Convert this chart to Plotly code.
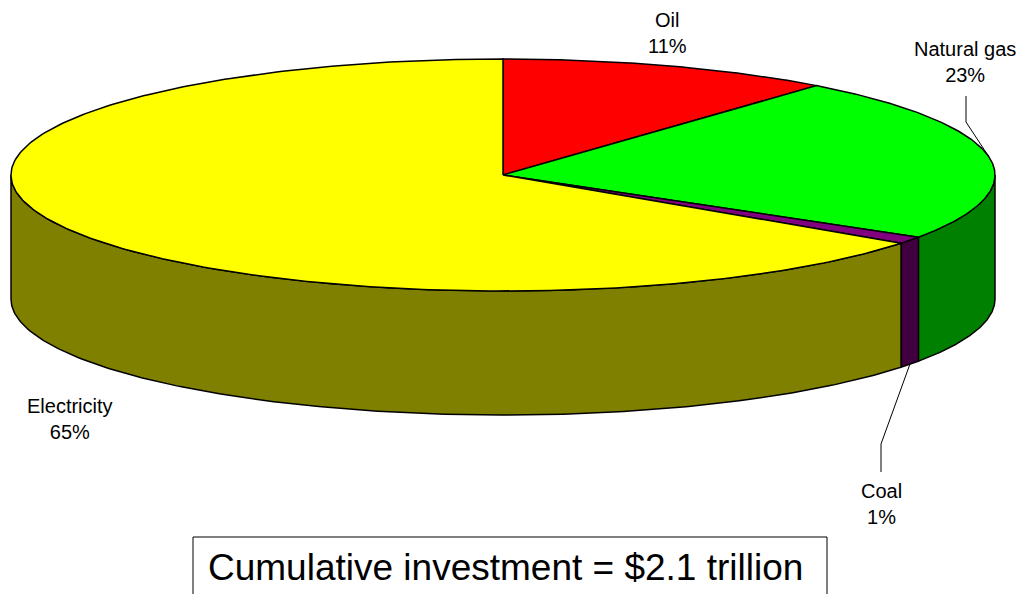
import numpy as np
import plotly.graph_objects as go

# ---- data ----
categories = ["Oil", "Natural gas", "Coal", "Electricity"]
values = [11, 23, 1, 65]
top_colors = ["#FF0000", "#00FF00", "#800080", "#FFFF00"]
side_colors = ["#800000", "#008000", "#400040", "#808000"]
title_text = "Cumulative investment = $2.1 trillion"

# ---- geometry (pixel space) ----
W, H = 1025, 594
cx, cy = 503, 175
ra, rb = 492, 116
depth = 124

def pt(theta_deg, dy=0.0):
    t = np.radians(theta_deg)
    return cx + ra * np.sin(t), cy - rb * np.cos(t) + dy

total = float(sum(values))
bounds = np.concatenate([[0], np.cumsum(values) / total * 360.0])

fig = go.Figure()
line = dict(color="black", width=1.5)

# side faces (visible front half: 90..270 deg clockwise from top)
for i in range(len(values)):
    t0, t1 = max(bounds[i], 90.0), min(bounds[i + 1], 270.0)
    if t1 <= t0:
        continue
    th = np.linspace(t0, t1, 200)
    xt, yt = pt(th)
    xb, yb = pt(th[::-1], depth)
    xs = np.concatenate([xt, xb, xt[:1]])
    ys = np.concatenate([yt, yb, yt[:1]])
    fig.add_trace(go.Scatter(x=xs, y=ys, mode="lines", fill="toself",
                             fillcolor=side_colors[i], line=line,
                             hoverinfo="skip", showlegend=False))

# top faces
for i in range(len(values)):
    th = np.linspace(bounds[i], bounds[i + 1], 300)
    xt, yt = pt(th)
    xs = np.concatenate([[cx], xt, [cx]])
    ys = np.concatenate([[cy], yt, [cy]])
    fig.add_trace(go.Scatter(x=xs, y=ys, mode="lines", fill="toself",
                             fillcolor=top_colors[i], line=line,
                             hoverinfo="skip", showlegend=False))

label_font = dict(family="Liberation Sans, Arial, sans-serif", size=20, color="black")

# label anchors
label_pos = {
    "Oil": (667, 33),
    "Natural gas": (965, 62),
    "Coal": (881, 504),
    "Electricity": (70, 419),
}
for i, c in enumerate(categories):
    x, y = label_pos[c]
    fig.add_annotation(x=x, y=y, text=f"{c}<br>{values[i]}%", showarrow=False,
                       font=label_font, xref="x", yref="y", align="center")

# leader lines
mid = {c: (bounds[i] + bounds[i + 1]) / 2 for i, c in enumerate(categories)}
gx, gy = pt(mid["Natural gas"])
fig.add_trace(go.Scatter(x=[966, 966, gx], y=[96, 122, gy], mode="lines",
                         line=dict(color="black", width=1), hoverinfo="skip",
                         showlegend=False))
kx, ky = pt(mid["Coal"], depth)
fig.add_trace(go.Scatter(x=[881, 881, kx], y=[472, 444, ky], mode="lines",
                         line=dict(color="black", width=1), hoverinfo="skip",
                         showlegend=False))

# title box
fig.add_shape(type="rect", x0=193, x1=827, y0=537, y1=610, xref="x", yref="y",
              line=dict(color="black", width=1), fillcolor="white", layer="above")
fig.add_annotation(x=505, y=567, text=title_text, showarrow=False,
                   font=dict(family="Liberation Sans Narrow, Liberation Sans, Arial", size=37, color="black"),
                   xref="x", yref="y")

fig.update_layout(
    width=W, height=H,
    margin=dict(l=0, r=0, t=0, b=0),
    paper_bgcolor="white", plot_bgcolor="white",
    xaxis=dict(range=[0, W], visible=False, fixedrange=True),
    yaxis=dict(range=[H, 0], visible=False, fixedrange=True),
    showlegend=False,
)

fig.write_html("out.html", config={"displayModeBar": False},
               post_script="document.body.style.margin='0';document.body.style.overflow='hidden';")
